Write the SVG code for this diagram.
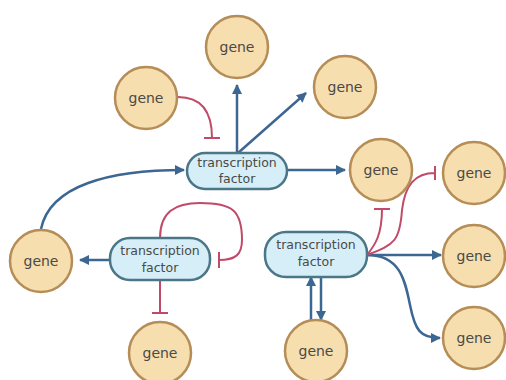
<svg xmlns="http://www.w3.org/2000/svg" width="506" height="380" viewBox="0 0 506 380">
<style>
.gene circle{fill:#f7deae;stroke:#b58d57;stroke-width:2.5}
.tf rect{fill:#d6eef7;stroke:#4a7688;stroke-width:2.5}
text{font-family:"DejaVu Sans","Liberation Sans",sans-serif;fill:#4a4a48;text-anchor:middle}
.g{font-size:14px}
.t{font-size:12.5px}
.act{fill:none;stroke:#3d6793;stroke-width:2.5}
.inh{fill:none;stroke:#c04a68;stroke-width:2}
</style>
<defs>
<marker id="ah" viewBox="0 0 10 10" refX="9" refY="5" markerWidth="10" markerHeight="10" markerUnits="userSpaceOnUse" orient="auto"><path d="M0,0L10,5L0,10z" fill="#3d6793"/></marker>
</defs>
<rect width="506" height="380" fill="#ffffff"/>
<g id="connectors">
<path class="act" d="M237,153V85" marker-end="url(#ah)"/>
<path class="act" d="M238,153L306,93" marker-end="url(#ah)"/>
<path class="act" d="M287,170H345" marker-end="url(#ah)"/>
<path class="act" d="M41,229C50,185 110,170 184,170" marker-end="url(#ah)"/>
<path class="inh" d="M178,97C200,97 212,110 212,138M204,138H220"/>
<path class="act" d="M110,260H80" marker-end="url(#ah)"/>
<path class="inh" d="M160,238C160,212 175,203 200,203C232,203 242,210 242,240C242,255 235,260 219,260M219,252V268"/>
<path class="inh" d="M160,280V313M152,313H168"/>
<path class="act" d="M367,255H441" marker-end="url(#ah)"/>
<path class="act" d="M367,255C400,255 405,280 410,305C415,330 420,338 440,338" marker-end="url(#ah)"/>
<path class="inh" d="M367,255C375,245 382,235 382,209M374,209H390"/>
<path class="inh" d="M367,255C395,245 400,240 402,210C405,185 415,173 435,173M435,166V180"/>
<path class="act" d="M311,320V277" marker-end="url(#ah)"/>
<path class="act" d="M321,278V320" marker-end="url(#ah)"/>
</g>
<g id="gene-top" class="gene"><circle cx="237" cy="47" r="31"/><text class="g" x="237" y="52">gene</text></g>
<g id="gene-upper-left" class="gene"><circle cx="146" cy="98" r="31"/><text class="g" x="146" y="103">gene</text></g>
<g id="gene-upper-right" class="gene"><circle cx="345" cy="87" r="31"/><text class="g" x="345" y="92">gene</text></g>
<g id="gene-mid" class="gene"><circle cx="381" cy="170" r="31"/><text class="g" x="381" y="175">gene</text></g>
<g id="gene-right-1" class="gene"><circle cx="474" cy="173" r="31"/><text class="g" x="474" y="178">gene</text></g>
<g id="gene-right-2" class="gene"><circle cx="474" cy="256" r="31"/><text class="g" x="474" y="261">gene</text></g>
<g id="gene-right-3" class="gene"><circle cx="474" cy="338" r="31"/><text class="g" x="474" y="343">gene</text></g>
<g id="gene-left" class="gene"><circle cx="41" cy="261" r="31"/><text class="g" x="41" y="266">gene</text></g>
<g id="gene-bottom-left" class="gene"><circle cx="160" cy="353" r="31"/><text class="g" x="160" y="358">gene</text></g>
<g id="gene-bottom-mid" class="gene"><circle cx="316" cy="351" r="31"/><text class="g" x="316" y="356">gene</text></g>
<g id="tf-top" class="tf"><rect x="187" y="153" width="100" height="36" rx="18"/><text class="t" x="237" y="167">transcription</text><text class="t" x="237" y="183">factor</text></g>
<g id="tf-left" class="tf"><rect x="110" y="238" width="100" height="42" rx="20"/><text class="t" x="160" y="255">transcription</text><text class="t" x="160" y="272">factor</text></g>
<g id="tf-right" class="tf"><rect x="265" y="232" width="102" height="45" rx="21"/><text class="t" x="316" y="249">transcription</text><text class="t" x="316" y="266">factor</text></g>
</svg>
